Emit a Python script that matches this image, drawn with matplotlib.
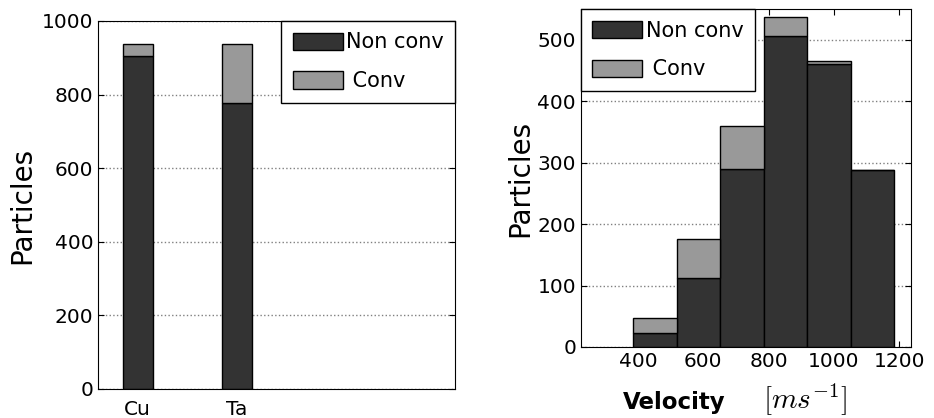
import numpy as np
import matplotlib
matplotlib.use('Agg')
import matplotlib.pyplot as plt

plt.rcParams['mathtext.fontset'] = 'cm'
plt.rcParams['font.family'] = 'DejaVu Sans'

# left panel: particles per material
materials = ['Cu', 'Ta']
mat_nonconv = [905, 777]
mat_conv = [32, 160]

# right panel: velocity histogram
vel_edges = [385, 518, 652, 785, 918, 1052, 1185]
vel_nonconv = [23, 112, 290, 507, 460, 288]
vel_conv = [24, 64, 70, 30, 5, 0]

dark = '#333333'
light = '#999999'

fig = plt.figure(figsize=(9.34, 4.18), dpi=100)
ax1 = fig.add_axes([0.105, 0.0694, 0.382, 0.8806])
ax2 = fig.add_axes([0.622, 0.170, 0.353, 0.808])

leg_kw = dict(borderaxespad=0, fontsize=15, fancybox=False, edgecolor='black',
              framealpha=1, handlelength=2.4, handleheight=0.9, handletextpad=0.15,
              labelspacing=0.9, borderpad=0.55)

# left
x = np.arange(len(materials))
ax1.bar(x, mat_nonconv, width=0.3, color=dark, edgecolor='black', lw=1, label='Non conv')
ax1.bar(x, mat_conv, width=0.3, bottom=mat_nonconv, color=light, edgecolor='black', lw=1, label=' Conv')
ax1.set_xlim(-0.4, 3.2)
ax1.set_ylim(0, 1000)
ax1.set_xticks(x)
ax1.set_xticklabels(materials)
ax1.set_yticks(np.arange(0, 1001, 200))
ax1.set_ylabel('Particles', fontsize=20)
ax1.tick_params(labelsize=14.5, direction='in', right=True, length=4)
ax1.tick_params(axis='x', length=0, pad=8)
ax1.yaxis.grid(True, ls=':', color='gray', lw=1)
ax1.set_axisbelow(True)
leg1 = ax1.legend(loc='upper right', **leg_kw)
leg1.get_frame().set_linewidth(1)

# right
lefts = np.array(vel_edges[:-1])
widths = np.diff(vel_edges)
ax2.bar(lefts, vel_nonconv, width=widths, align='edge', color=dark, edgecolor='black', lw=1, label='Non conv')
ax2.bar(lefts, vel_conv, width=widths, align='edge', bottom=vel_nonconv, color=light,
        edgecolor='black', lw=1, label=' Conv')
ax2.set_xlim(225, 1235)
ax2.set_ylim(0, 550)
ax2.set_xticks(np.arange(400, 1201, 200))
ax2.set_yticks(np.arange(0, 501, 100))
ax2.set_ylabel('Particles', fontsize=20, labelpad=2)
ax2.text(0.282, -0.165, 'Velocity', transform=ax2.transAxes, fontsize=16.5,
         fontweight='bold', ha='center', va='center')
ax2.text(0.679, -0.155, '$[ms^{-1}]$', transform=ax2.transAxes, fontsize=21,
         ha='center', va='center')
ax2.tick_params(labelsize=14.5, direction='in', top=True, right=True, length=4)
ax2.yaxis.grid(True, ls=':', color='gray', lw=1)
ax2.set_axisbelow(True)
leg2 = ax2.legend(loc='upper left', **leg_kw)
leg2.get_frame().set_linewidth(1)

fig.savefig('out.png', dpi=100)
